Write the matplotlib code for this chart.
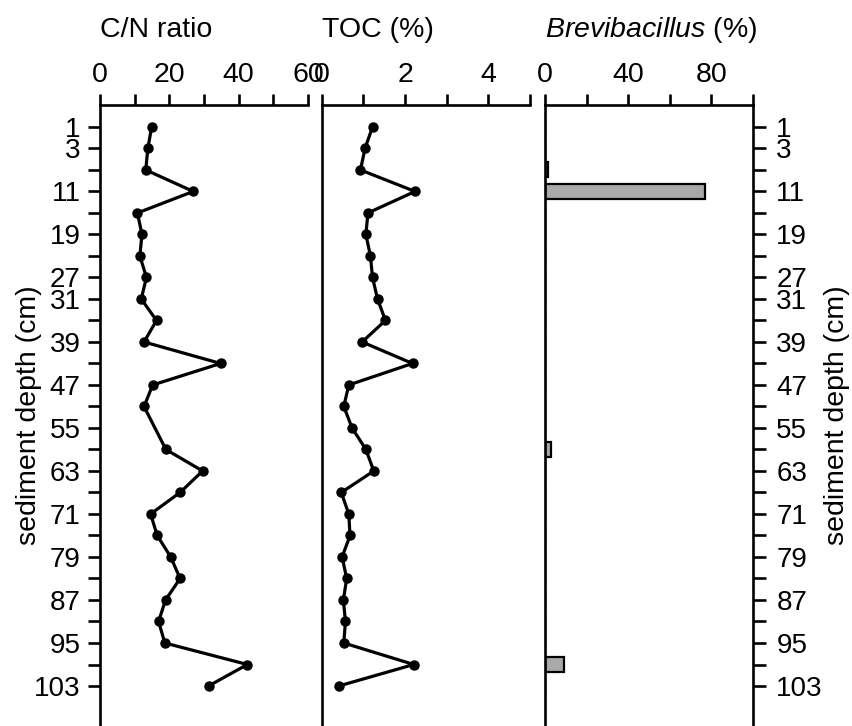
import numpy as np
import matplotlib
matplotlib.use("Agg")
import matplotlib.pyplot as plt
import matplotlib.transforms as mtransforms

# -------------------------------
# Data
# -------------------------------
depth_cm = [1, 3, 7, 11, 15, 19, 23, 27, 31, 35, 39, 43, 47, 51, 55,
            59, 63, 67, 71, 75, 79, 83, 87, 91, 95, 99, 103]
labelled_depths = [1, 3, 11, 19, 27, 31, 39, 47, 55, 63, 71, 79, 87, 95, 103]

cn_ratio = [14.9, 13.8, 13.2, 26.9, 10.8, 12.1, 11.5, 13.4, 11.9, 16.3,
            12.7, 34.8, 15.2, 12.7, np.nan, 19.0, 29.6, 23.1, 14.6, 16.5,
            20.4, 23.1, 18.9, 16.9, 18.7, 42.5, 31.3]
toc_pct = [1.22, 1.04, 0.93, 2.24, 1.11, 1.06, 1.17, 1.22, 1.34, 1.53,
           0.97, 2.18, 0.65, 0.53, 0.73, 1.06, 1.25, 0.47, 0.65, 0.68,
           0.49, 0.60, 0.52, 0.57, 0.53, 2.21, 0.41]
brevibacillus_pct = [0, 0, 1.5, 77, 0, 0, 0, 0, 0, 0,
                     0, 0, 0, 0, 0, 3, 0, 0, 0, 0,
                     0, 0, 0, 0, 0, 9, 0]

# -------------------------------
# Style
# -------------------------------
plt.rcParams['font.family'] = ['Liberation Sans', 'DejaVu Sans']
plt.rcParams['mathtext.fontset'] = 'custom'
plt.rcParams['mathtext.rm'] = 'Liberation Sans'
plt.rcParams['mathtext.it'] = 'Liberation Sans:italic'
FS = 20.5
YFS = 20
LW = 1.9

fig = plt.figure(figsize=(8.52, 7.26), dpi=100)
W, H = 852.0, 726.0
top = 1 - 105 / H


def make_axes(x0, x1):
    return fig.add_axes([x0 / W, 0, (x1 - x0) / W, top])


ax1 = make_axes(100, 308)
ax2 = make_axes(321.7, 530)
ax3 = make_axes(545, 752.7)

pos = np.arange(len(depth_cm))
ylabels = [str(d) if d in labelled_depths else "" for d in depth_cm]

for ax in (ax1, ax2, ax3):
    ax.set_ylim(27.86, -1.02)
    ax.xaxis.tick_top()
    ax.spines['bottom'].set_visible(False)
    for s in ax.spines.values():
        s.set_linewidth(LW)
    ax.tick_params(axis='both', which='both', direction='out', length=8,
                   width=LW, labelsize=FS, top=True, bottom=False)
    ax.tick_params(axis='x', pad=4)

# -------------------------------
# C/N ratio
# -------------------------------
cn = np.array(cn_ratio)
ok = ~np.isnan(cn)
ax1.plot(cn[ok], pos[ok], '-o', color='black', lw=2.3, ms=6.5)
ax1.set_xlim(0, 60)
ax1.set_xticks([0, 20, 40, 60])
ax1.set_xticks([10, 30, 50], minor=True)
ax1.spines['right'].set_visible(False)
ax1.set_yticks(pos)
ax1.set_yticklabels(ylabels, fontsize=YFS)
ax1.tick_params(axis='y', pad=5, length=9)
ax1.set_ylabel("sediment depth (cm)", fontsize=FS)
ax1.yaxis.set_label_coords(-0.28, 0.5)

# -------------------------------
# TOC
# -------------------------------
ax2.plot(toc_pct, pos, '-o', color='black', lw=2.3, ms=6.5)
ax2.set_xlim(0, 5)
ax2.set_xticks([0, 2, 4])
ax2.set_xticks([1, 3, 5], minor=True)
ax2.spines['right'].set_visible(False)
ax2.set_yticks([])

# -------------------------------
# Brevibacillus
# -------------------------------
ax3.barh(pos, brevibacillus_pct, height=0.7, color='#a9a9a9',
         edgecolor='black', linewidth=1.6)
ax3.set_xlim(0, 100)
ax3.set_xticks([0, 40, 80])
ax3.set_xticks([20, 60, 100], minor=True)
ax3.yaxis.tick_right()
ax3.set_yticks(pos)
ax3.set_yticklabels(ylabels, fontsize=YFS)
ax3.tick_params(axis='y', left=False, right=True, pad=8, length=9)
ax3.yaxis.set_label_position('right')
ax3.set_ylabel("sediment depth (cm)", fontsize=FS)
ax3.yaxis.set_label_coords(1.343, 0.5)

# -------------------------------
# Panel titles
# -------------------------------
title_y = 1 - 37 / H
for ax, txt in ((ax1, "C/N ratio"), (ax2, "TOC (%)"),
                (ax3, r"$\mathit{Brevibacillus}$ (%)")):
    tr = mtransforms.blended_transform_factory(ax.transAxes, fig.transFigure)
    ax.text(0, title_y, txt, transform=tr, ha='left', va='baseline',
            fontsize=FS)

fig.savefig("out.png", dpi=100)
